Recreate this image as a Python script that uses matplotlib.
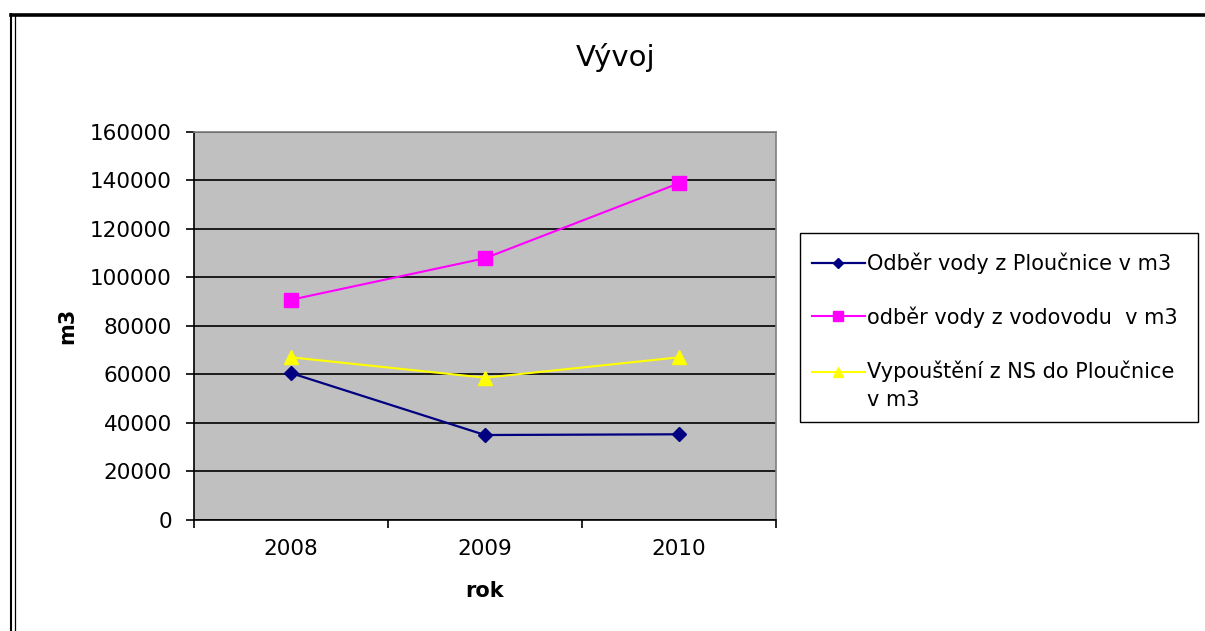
import matplotlib

matplotlib.use("Agg")
import matplotlib.pyplot as plt
from matplotlib.lines import Line2D
from matplotlib.patches import Rectangle
import numpy as np

years = ["2008", "2009", "2010"]
odber_ploucnice = [60500, 35000, 35300]
odber_vodovod = [90700, 107800, 138700]
vypousteni = [67000, 58600, 67000]

series_labels = [
    "Odběr vody z Ploučnice v m3",
    "odběr vody z vodovodu  v m3",
    "Vypouštění z NS do Ploučnice\nv m3",
]

W, H = 1205, 631
plt.rcParams["font.family"] = ["DejaVu Sans"]

fig = plt.figure(figsize=(W / 100, H / 100), dpi=100)
fig.patch.set_facecolor("white")

# plot area in pixel coords
left, right, top, bottom = 194, 776, 131.5, 520
ax = fig.add_axes([left / W, 1 - bottom / H, (right - left) / W, (bottom - top) / H])
ax.set_facecolor("#c0c0c0")

x = np.arange(len(years))
ax.plot(x, odber_ploucnice, color="#000080", lw=1.6, marker="D", ms=7,
        label=series_labels[0], zorder=3)
ax.plot(x, odber_vodovod, color="#ff00ff", lw=1.5, marker="s", ms=10,
        label=series_labels[1], zorder=3)
ax.plot(x, vypousteni, color="#ffff00", lw=1.5, marker="^", ms=10,
        label=series_labels[2], zorder=3)

ax.set_xlim(-0.5, len(years) - 0.5)
ax.set_ylim(0, 160000)
ax.set_yticks(np.arange(0, 160001, 20000))
ax.yaxis.grid(True, color="black", lw=1.2)
ax.set_axisbelow(True)

ax.set_xticks(x)
ax.set_xticklabels(years)
ax.set_xticks(np.arange(-0.5, len(years)), minor=True)
ax.tick_params(axis="x", which="major", length=0, pad=14, labelsize=15.5)
ax.tick_params(axis="x", which="minor", length=6, width=1.2, color="black", direction="out")
ax.tick_params(axis="y", length=6, width=1.2, color="black", pad=10, labelsize=15.5)

for side in ("top", "right"):
    ax.spines[side].set_color("#808080")
    ax.spines[side].set_linewidth(1.2)
for side in ("left", "bottom"):
    ax.spines[side].set_color("black")
    ax.spines[side].set_linewidth(1.2)

ax.set_ylabel("m3", fontsize=15, fontweight="bold", va="center")
ax.set_xlabel("rok", fontsize=15, fontweight="bold", va="center")
ax.yaxis.set_label_coords(-(left - 67) / (right - left), 0.5)
ax.xaxis.set_label_coords(0.5, -(591 - bottom) / (bottom - top))

fig.text(616 / W, 1 - 57 / H, "Vývoj", ha="center", va="center", fontsize=21)

# legend box
lx0, ly0, lx1, ly1 = 800, 233, 1198, 422
fig.patches.append(Rectangle((lx0 / W, 1 - ly1 / H), (lx1 - lx0) / W, (ly1 - ly0) / H,
                             transform=fig.transFigure, fill=False, edgecolor="black",
                             lw=1.0, zorder=1))
leg = fig.legend(loc="upper left", bbox_to_anchor=(802 / W, 1 - 242 / H),
                 frameon=False, fontsize=15, handlelength=2.5, handletextpad=0.1,
                 labelspacing=1.55, borderpad=0, markerscale=0.75)
for t in leg.get_texts():
    t.set_linespacing(1.5)
# two-line entry: keep its handle level with the first text line
h3 = leg.legend_handles[2]
h3.set_ydata(np.asarray(h3.get_ydata()) + 10)

# outer border: thick top line, double line on the left
fig.add_artist(Line2D([11 / W, 1], [1 - 14.5 / H, 1 - 14.5 / H], color="black", lw=2.6,
                      transform=fig.transFigure))
fig.add_artist(Line2D([11 / W, 11 / W], [0, 1 - 13.5 / H], color="black", lw=1.5,
                      transform=fig.transFigure))
fig.add_artist(Line2D([14.5 / W, 14.5 / W], [0, 1 - 15 / H], color="black", lw=0.9,
                      transform=fig.transFigure))

fig.savefig("out.png", dpi=100)
